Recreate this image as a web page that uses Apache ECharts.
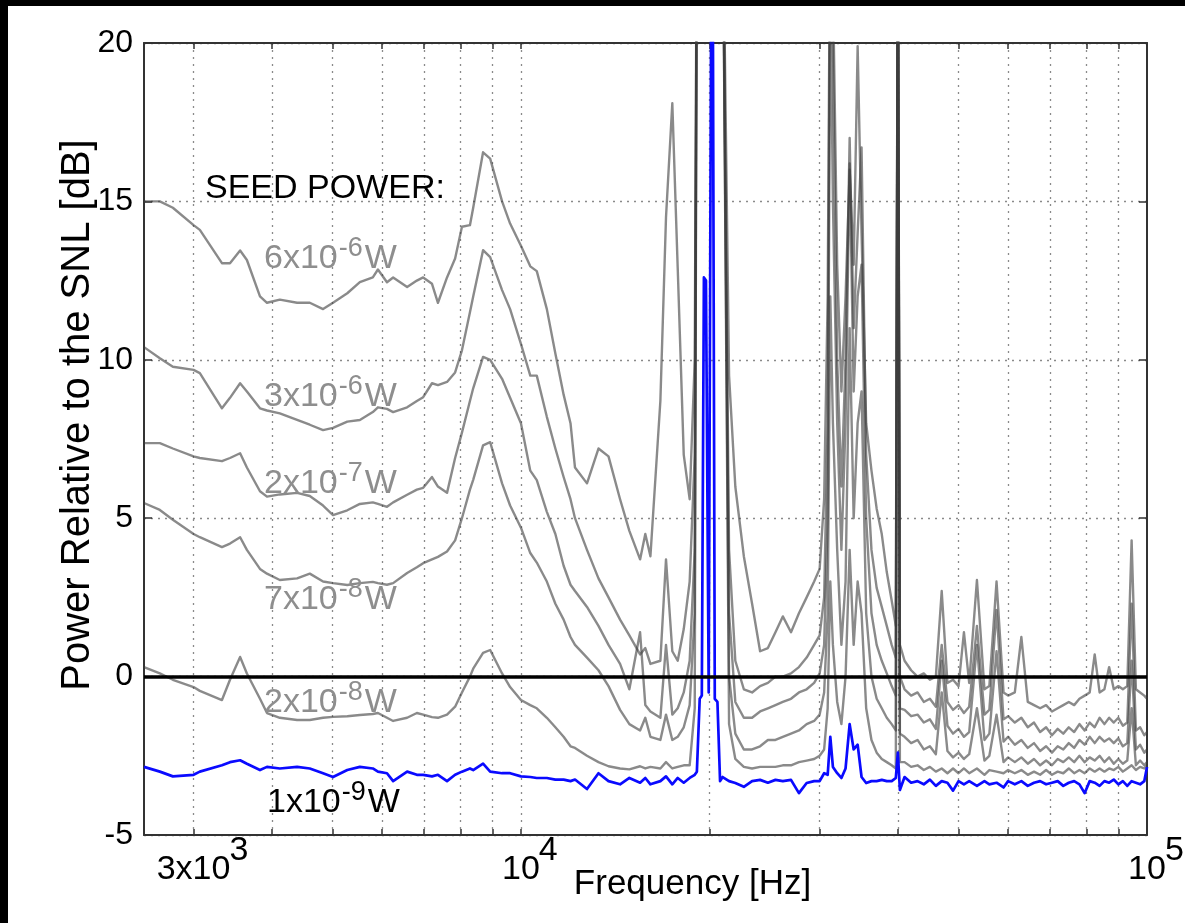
<!DOCTYPE html>
<html>
<head>
<meta charset="utf-8">
<script src="https://cdn.jsdelivr.net/npm/echarts@6/dist/echarts.min.js"></script>
<style>
html,body{margin:0;padding:0;background:#000;width:1185px;height:923px;overflow:hidden;}
#c{position:absolute;left:8px;top:6px;width:1177px;height:917px;background:#fff;}
</style>
</head>
<body>
<div id="c"></div>
<script>
// ---------- DATA ----------
const freqHz = [
 2500,2650,2780,3000,3070,3330,3430,3560,3650,3830,
 3930,4120,4390,4600,4830,5010,5280,5530,5800,5910,
 6110,6250,6580,6820,6980,7210,7370,7620,7850,8050,
 8290,8390,8700,8930,9330,9610,
 10000,10350,10600,11000,
 11350,11700,12000,12200,12750,13300,13800,14400,14900,15500,
 15800,16100,16700,17050,17450,17800,18200,18600,18950,19100,
 19300,19450,19600,19750,19950,20200,20400,20600,20800,21000,
 21500,22000,22700,23400,24100,24800,25500,26200,27000,27800,
 28600,29400,30000,30500,30900,31200,31500,32000,32500,33000,
 33500,34000,34500,35000,35600,36300,37000,37700,38400,39100,
 39700,40000,40300,
 41000,42000,43000,44000,45000,46000,47000,
 48000,49000,50000,51000,52000,53500,55000,56000,57500,59000,
 60000,61500,63000,64500,66000,67500,69000,70500,72000,73500,
 75000,76500,78000,79500,81000,82500,84000,85500,87000,88500,
 90000,91500,93000,94500,96000,97500,99000,100000
];

const seed6e6 = [
 15.0,15.0,14.8,14.25,14.1,13.05,13.05,13.45,13.15,12.0,
 11.8,11.9,11.8,11.8,11.6,11.8,12.1,12.45,12.6,12.85,
 12.45,12.6,12.3,12.5,12.6,12.4,11.8,12.6,13.2,14.2,
 14.25,14.8,16.55,16.35,15.0,14.3,
 13.6,12.95,12.8,11.6,
 10.2,8.9,8.0,6.6,6.1,7.2,6.95,5.6,4.6,3.7,
 4.5,3.8,8.7,14.5,18.1,12.9,7.0,5.6,10.0,25,
 25,25,25,25,25,25,25,25,25,25,
 9.5,6.0,3.8,2.3,0.8,0.9,1.4,1.9,1.4,2.0,
 2.5,3.0,3.4,5.6,12,25,22,13,9,12,
 16,13,19.9,14,8,6.5,5.3,4.5,3.3,2.4,
 1.6,25,1.0,
 0.5,0.2,0.0,0.1,-0.1,0.0,2.7,
 -0.2,-0.1,-0.3,1.4,-0.2,3.05,-0.4,-0.3,3.0,-0.5,
 -0.6,-0.5,1.25,-0.8,-0.9,-1.0,-0.9,-1.1,-1.0,-0.9,
 -0.8,-0.9,-0.7,-0.6,-0.5,0.7,-0.5,-0.4,0.3,-0.4,
 -0.3,-0.4,-0.3,4.3,-0.4,-0.5,-0.6,-0.7
];

const seed3e6 = [
 10.4,10.05,9.78,9.68,9.58,8.47,8.8,9.26,9.0,8.47,
 8.4,8.31,8.1,7.95,7.78,7.85,8.05,8.1,8.35,8.5,
 8.45,8.35,8.5,8.7,8.82,9.26,9.2,9.3,9.6,10.3,
 11.5,12.0,13.46,13.24,12.2,11.6,
 10.5,9.5,9.5,8.2,
 7.2,6.3,5.6,5.0,4.0,3.1,2.5,1.8,1.3,0.7,
 0.9,0.4,0.5,3.7,0.8,0.5,1.5,3.0,7.0,25,
 25,25,25,25,25,25,25,25,25,25,
 4.0,0.5,-0.4,-0.5,-0.3,-0.2,0.0,0.0,0.1,0.3,
 0.6,1.0,1.3,2.5,8,25,20,10,6,10,
 17,11,14,16.7,7,4.0,2.8,2.2,1.6,1.0,
 0.6,25,0.0,
 -0.4,-0.6,-0.5,-0.8,-0.7,-0.95,1.0,
 -0.8,-1.05,-0.9,-1.15,-0.95,1.6,-1.2,-1.05,2.1,-1.35,
 -1.25,-1.45,-1.3,-1.6,-1.45,-1.75,-1.6,-1.85,-1.65,-1.8,
 -1.6,-1.75,-1.5,-1.7,-1.45,-1.6,-1.3,-1.5,-1.3,-1.45,
 -1.3,-1.55,-1.45,2.3,-1.7,-1.6,-1.85,-1.75
];

const seed2e7 = [
 7.37,7.37,7.2,6.95,6.9,6.8,6.9,7.05,6.6,5.85,
 5.68,5.75,5.8,5.7,5.4,5.1,5.25,5.45,5.5,5.45,
 5.36,5.5,5.74,5.9,5.96,6.3,6.0,5.8,6.9,7.7,
 8.7,9.1,10.09,10.0,9.4,8.8,
 8.0,6.5,6.2,5.2,
 4.5,3.5,2.9,2.7,2.2,1.6,1.0,0.4,-0.4,1.4,
 -0.9,-1.1,-1.3,1.0,-1.2,-1.0,-0.5,0.5,4.0,25,
 25,25,25,25,25,25,25,25,25,25,
 2.0,-0.8,-1.3,-1.3,-1.1,-1.0,-0.9,-0.8,-0.7,-0.5,
 -0.4,-0.2,0.1,1.0,5,22,15,8,4,8,
 16.2,9,12,13,5,2.0,1.0,0.5,0.1,-0.3,
 -0.6,25,-1.0,
 -1.05,-1.25,-1.2,-1.45,-1.35,-1.65,0.5,
 -1.55,-1.8,-1.65,-1.9,-1.75,1.0,-2.0,-1.8,0.8,-2.05,
 -1.9,-2.15,-2.0,-2.25,-2.1,-2.35,-2.2,-2.4,-2.2,-2.3,
 -2.1,-2.25,-2.0,-2.15,-1.9,-2.1,-1.9,-2.05,-1.95,-2.1,
 -1.95,-2.2,-2.1,0.5,-2.3,-2.15,-2.4,-2.3
];

const seed7e8 = [
 5.48,5.26,4.95,4.5,4.4,4.09,4.2,4.4,4.0,3.4,
 3.25,3.05,3.1,3.25,3.0,2.95,2.89,2.95,2.99,2.95,
 2.9,2.95,3.27,3.45,3.58,3.7,3.78,3.95,4.3,5.0,
 5.9,6.21,7.3,7.4,6.1,5.4,
 4.7,3.9,3.6,3.0,
 2.3,1.8,1.25,1.0,0.6,0.2,-0.3,-1.05,-1.5,-1.7,
 -1.3,-1.9,-2.0,-1.2,-2.0,-1.9,-1.6,-0.9,2.0,25,
 25,25,25,25,25,25,25,25,25,25,
 0.0,-1.8,-2.3,-2.3,-2.2,-2.0,-2.0,-1.9,-1.8,-1.7,
 -1.5,-1.4,-1.2,-0.5,2,12,8,4,1,3,
 11,5,8,9,2,0,-0.7,-1.0,-1.3,-1.5,
 -1.7,25,-1.8,
 -1.9,-2.1,-2.0,-2.3,-2.2,-2.45,-0.5,
 -2.35,-2.55,-2.4,-2.6,-2.45,-1.0,-2.65,-2.5,-1.2,-2.7,
 -2.55,-2.7,-2.55,-2.75,-2.6,-2.8,-2.65,-2.8,-2.6,-2.7,
 -2.55,-2.7,-2.5,-2.7,-2.55,-2.65,-2.5,-2.7,-2.55,-2.75,
 -2.6,-2.75,-2.65,-1.0,-2.8,-2.65,-2.8,-2.7
];

const seed2e8 = [
 0.3,0.1,-0.1,-0.33,-0.45,-0.74,-0.1,0.62,0.1,-0.7,
 -1.15,-1.3,-1.37,-1.37,-1.3,-1.27,-1.25,-1.21,-1.18,-1.15,
 -1.3,-1.4,-1.3,-1.15,-1.2,-1.28,-1.3,-1.2,-0.95,-0.5,
 0.0,0.25,0.75,0.84,0.1,-0.33,
 -0.74,-0.9,-1.0,-1.3,
 -1.6,-1.9,-2.2,-2.25,-2.5,-2.7,-2.83,-2.9,-2.93,-2.83,
 -2.9,-2.85,-2.9,-2.7,-2.9,-2.85,-2.8,-2.8,-1.0,25,
 25,25,25,25,25,25,25,25,25,25,
 -1.5,-2.6,-2.85,-2.9,-2.85,-2.85,-2.85,-2.8,-2.8,-2.7,
 -2.65,-2.6,-2.5,-2.3,-1.0,3,1,-0.8,-1.5,0,
 4,1,3,2,-1.0,-2.0,-2.4,-2.6,-2.7,-2.8,
 -2.9,25,-2.7,
 -2.7,-2.85,-2.8,-2.95,-2.85,-3.0,-2.9,
 -3.05,-2.9,-3.05,-2.9,-3.05,-2.9,-3.1,-2.95,-3.0,-3.05,
 -2.95,-3.05,-2.95,-3.1,-3.0,-3.1,-2.95,-3.1,-3.0,-3.05,
 -2.9,-3.05,-2.95,-3.05,-2.9,-3.0,-2.9,-3.0,-2.9,-2.95,
 -2.85,-3.0,-2.9,-2.8,-2.95,-2.85,-2.9,-2.8
];

const seed1e9 = [
 -2.85,-3.0,-3.15,-3.1,-3.0,-2.8,-2.7,-2.64,-2.75,-2.95,
 -2.85,-2.9,-2.85,-2.9,-3.05,-3.17,-2.95,-2.85,-2.9,-3.0,
 -3.05,-3.3,-3.0,-3.1,-3.1,-3.15,-3.1,-3.3,-3.1,-3.0,
 -2.9,-2.95,-2.75,-3.0,-3.05,-3.05,
 -3.15,-3.17,-3.2,-3.2,
 -3.25,-3.25,-3.3,-3.25,-3.55,-3.05,-3.3,-3.4,-3.2,-3.35,
 -3.2,-3.4,-3.3,-3.15,-3.4,-3.2,-3.35,-3.2,-3.1,-3.0,
 -0.7,-0.6,12.6,12.5,-0.5,30,-0.7,-0.8,-3.3,-3.17,
 -3.3,-3.36,-3.48,-3.3,-3.26,-3.35,-3.26,-3.3,-3.26,-3.68,
 -3.36,-3.3,-3.3,-3.05,-3.1,-1.9,-2.85,-3.05,-3.2,-2.9,
 -1.5,-2.3,-2.15,-3.17,-3.36,-3.3,-3.3,-3.26,-3.3,-3.3,
 -3.2,-2.4,-3.58,
 -3.17,-3.35,-3.3,-3.4,-3.25,-3.45,-3.3,
 -3.35,-3.6,-3.3,-3.4,-3.3,-3.45,-3.3,-3.4,-3.35,-3.5,
 -3.3,-3.4,-3.3,-3.45,-3.35,-3.3,-3.4,-3.35,-3.3,-3.45,
 -3.35,-3.3,-3.4,-3.68,-3.3,-3.35,-3.45,-3.3,-3.35,-3.25,
 -3.4,-3.3,-3.45,-3.3,-3.35,-3.4,-3.3,-2.85
];

const seriesNames = ['2x10^-8 W','7x10^-8 W','2x10^-7 W','3x10^-6 W','6x10^-6 W','1x10^-9 W'];
const xGridTicks = [3000,4000,5000,6000,7000,8000,9000,10000,20000,30000,40000,50000,60000,70000,80000,90000];
const xTickLabels = [3000,10000,100000];
const yMin = -5, yMax = 20, yStep = 5;

// ---------- CHART ----------
const FONT = '"Liberation Sans", Arial, Helvetica, sans-serif';
const GRAY = 'rgba(60,60,60,0.6)';
const FRAME = '#333';
const chart = echarts.init(document.getElementById('c'), null, {renderer:'canvas'});

function pairs(vals){ return freqHz.map((f,i)=>[f, vals[i]]); }

const grayData = [seed2e8, seed7e8, seed2e7, seed3e6, seed6e6];
const series = grayData.map((vals,k)=>({
  type:'line', name: seriesNames[k], data: pairs(vals), symbol:'none', showSymbol:false,
  silent:true, clip:true, animation:false, z:2,
  lineStyle:{color:GRAY, width:2.4, join:'round'}
}));
series.push({
  type:'line', name: seriesNames[5], data: pairs(seed1e9), symbol:'none', showSymbol:false,
  silent:true, clip:true, animation:false, z:3,
  lineStyle:{color:'#0a0aff', width:2.7, join:'round'}
});
series.push({
  type:'line', data:[], z:5, silent:true, animation:false,
  markLine:{silent:true, symbol:['none','none'], animation:false, label:{show:false},
    lineStyle:{color:'#000', width:3.5, type:'solid'}, data:[{yAxis:0}]}
});

const xBase = {
  type:'log', logBase:10, min:2500, max:100000,
  axisLine:{show:true, onZero:false, lineStyle:{color:FRAME, width:2}},
  axisTick:{show:true, inside:true, length:6, customValues:xGridTicks, lineStyle:{color:FRAME, width:1.5}},
  axisLabel:{show:false},
  minorTick:{show:false}, minorSplitLine:{show:false}
};

const option = {
  animation:false,
  backgroundColor:'#fff',
  grid:{left:136, right:38, top:37, bottom:88, containLabel:false},
  xAxis:[
    Object.assign({}, xBase, {
      position:'bottom',
      name:'Frequency [Hz]', nameLocation:'middle', nameGap:32, nameMoveOverlap:false,
      nameTextStyle:{fontSize:35, color:'#000', fontFamily:FONT, padding:[0,0,0,94]},
      splitLine:{show:true, lineStyle:{color:'#8a8a8a', width:1.3, type:[2,5]}}
    }),
    Object.assign({}, xBase, {position:'top', splitLine:{show:false}})
  ],
  yAxis:[
    {
      type:'value', min:yMin, max:yMax, interval:yStep, position:'left',
      name:'Power Relative to the SNL [dB]', nameLocation:'middle', nameGap:46, nameMoveOverlap:false,
      nameTextStyle:{fontSize:40, color:'#000', fontFamily:FONT, padding:[0,0,0,48]},
      axisLine:{show:true, onZero:false, lineStyle:{color:FRAME, width:2}},
      axisTick:{show:true, inside:true, length:8, lineStyle:{color:FRAME, width:1.5}},
      axisLabel:{fontSize:32, color:'#000', fontFamily:FONT, margin:11},
      splitLine:{show:true, lineStyle:{color:'#8a8a8a', width:1.3, type:[2,5]}}
    },
    {
      type:'value', min:yMin, max:yMax, interval:yStep, position:'right',
      axisLine:{show:true, onZero:false, lineStyle:{color:FRAME, width:2}},
      axisTick:{show:true, inside:true, length:8, lineStyle:{color:FRAME, width:1.5}},
      axisLabel:{show:false}, splitLine:{show:false}
    }
  ],
  series: series
};

chart.setOption(option);

// ---------- TEXT WITH SUPERSCRIPTS ----------
const meas = document.createElement('canvas').getContext('2d');
function tw(txt, size){ meas.font = size + 'px ' + FONT; return meas.measureText(txt).width; }
function txt(t, x, y, size, col, align){
  return {type:'text', x:x, y:y, z:100, silent:true,
    style:{text:t, font:size + 'px ' + FONT, fill:col, align:align || 'left', verticalAlign:'middle'}};
}
const G = [];

// x tick labels: mantissa x 10^exponent, placed at the axis position of each tick value
xTickLabels.forEach(v => {
  const e = Math.round(Math.log10(v));
  const mant = Math.round(v / Math.pow(10, e));
  const base = mant === 1 ? '10' : mant + 'x10';
  const px = chart.convertToPixel({xAxisIndex:0}, v);
  const w = tw(base, 34);
  G.push(txt(base, px, 864, 34, '#000', 'center'));
  G.push(txt(String(e), px + w/2 - 1, 844.5, 34, '#000', 'left'));
});

// in-plot seed power annotations (page px; container is offset by 8,6)
const annot = [
  {m:'6x10', s:'-6', x:264, cy:258.5, col:'#8e8e8e'},
  {m:'3x10', s:'-6', x:264, cy:396.5, col:'#8e8e8e'},
  {m:'2x10', s:'-7', x:264, cy:483.5, col:'#8e8e8e'},
  {m:'7x10', s:'-8', x:264, cy:600,   col:'#8e8e8e'},
  {m:'2x10', s:'-8', x:264, cy:703,   col:'#8e8e8e'},
  {m:'1x10', s:'-9', x:267, cy:803,   col:'#000'}
];
annot.forEach(a => {
  const x0 = a.x - 8, y0 = a.cy - 6;
  const w1 = tw(a.m, 34), w2 = tw(a.s, 27);
  G.push(txt(a.m, x0, y0, 34, a.col));
  G.push(txt(a.s, x0 + w1 + 1, y0 - 10, 27, a.col));
  G.push(txt('W', x0 + w1 + w2 + 3, y0, 34, a.col));
});
G.push(txt('SEED POWER:', 205 - 8, 189 - 6, 34, '#000'));

chart.setOption({graphic: G});
</script>
</body>
</html>
